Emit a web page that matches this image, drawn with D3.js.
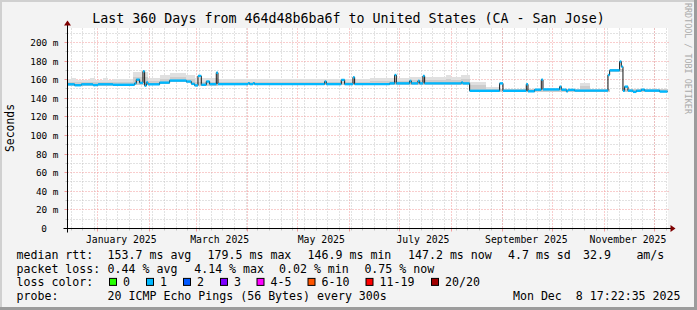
<!DOCTYPE html>
<html>
<head>
<meta charset="utf-8">
<script src="https://cdn.jsdelivr.net/npm/d3@7"></script>
<style>
  body { margin: 0; background: #fff; }
  svg { display: block; }
  text { font-family: "DejaVu Sans Mono", monospace; }
</style>
</head>
<body>
<div id="canvas"></div>
<script>
// DATA ========================================================================

var START = "2024-12-13 17:22:35"
var END = "2025-12-08 17:22:35"

// median rtt (ms), step runs: each value holds until the next date
var MEDIAN_DATES = [
    "2024-12-13", "2024-12-18", "2024-12-22", "2024-12-29", "2025-01-01", "2025-01-10",
    "2025-01-23", "2025-01-24", "2025-01-26", "2025-01-28", "2025-01-29", "2025-01-30",
    "2025-01-31", "2025-02-07", "2025-02-13", "2025-02-23", "2025-02-26", "2025-02-28",
    "2025-03-02", "2025-03-04", "2025-03-07", "2025-03-09", "2025-03-13", "2025-03-14",
    "2025-04-01", "2025-04-02", "2025-04-04", "2025-04-05", "2025-05-17", "2025-05-18",
    "2025-05-27", "2025-05-29", "2025-06-03", "2025-06-04", "2025-06-25", "2025-06-28",
    "2025-06-29", "2025-07-07", "2025-07-08", "2025-07-12", "2025-07-13", "2025-07-15",
    "2025-07-16", "2025-08-07", "2025-08-08", "2025-08-12", "2025-08-30", "2025-09-01",
    "2025-09-15", "2025-09-16", "2025-09-20", "2025-09-24", "2025-09-25", "2025-10-05",
    "2025-10-06", "2025-10-09", "2025-10-10", "2025-10-14", "2025-11-03", "2025-11-04",
    "2025-11-10", "2025-11-11", "2025-11-12", "2025-11-13", "2025-11-15", "2025-11-18",
    "2025-11-20", "2025-11-23", "2025-11-25", "2025-12-04"
]
var MEDIAN_VALUES = [
    155.0, 154.0, 155.0, 154.2, 155.0, 154.5,
    156.0, 160.0, 156.5, 169.0, 153.5, 157.0,
    155.0, 156.8, 159.0, 158.0, 155.5, 153.8,
    164.0, 154.5, 158.0, 155.2, 167.5, 155.2,
    156.2, 155.2, 156.2, 155.2, 158.0, 155.2,
    159.7, 155.2, 162.5, 155.2, 156.0, 165.0,
    156.0, 158.7, 156.0, 158.7, 156.0, 164.0,
    156.0, 157.0, 156.0, 148.0, 156.0, 148.0,
    155.0, 147.5, 149.2, 160.0, 149.5, 152.5,
    149.2, 147.5, 149.0, 148.2, 165.0, 170.0,
    179.5, 174.0, 148.0, 152.5, 148.2, 146.9,
    148.0, 149.2, 148.2, 147.2
]

// smoke (ms): bottom, top of the dark inner band, top of the light outer band
var SMOKE_DATES = [
    "2024-12-13", "2024-12-16", "2024-12-19", "2024-12-27", "2024-12-30", "2025-01-04",
    "2025-01-07", "2025-01-10", "2025-01-22", "2025-01-31", "2025-02-07", "2025-02-13",
    "2025-02-23", "2025-02-28", "2025-03-14", "2025-06-13", "2025-07-07", "2025-07-29",
    "2025-08-01", "2025-08-07", "2025-08-12", "2025-08-22", "2025-08-30", "2025-10-17",
    "2025-10-23", "2025-11-04", "2025-11-12"
]
var SMOKE_LOW = [
    153.5, 153.5, 153.5, 153.5, 153.5, 153.5,
    153.5, 153.5, 154.0, 154.0, 155.0, 157.0,
    156.0, 153.0, 154.0, 154.0, 154.5, 154.5,
    154.5, 154.5, 147.0, 147.0, 147.0, 147.0,
    147.0, 168.0, 147.0
]
var SMOKE_INNER = [
    157.5, 158.0, 157.5, 158.0, 157.5, 158.0,
    157.0, 157.5, 163.0, 158.5, 161.0, 163.0,
    161.0, 158.0, 157.5, 158.5, 159.5, 161.0,
    159.5, 161.0, 154.0, 150.0, 149.5, 153.0,
    149.5, 171.0, 149.5
]
var SMOKE_OUTER = [
    160.5, 161.5, 160.0, 161.5, 160.0, 161.5,
    160.0, 160.5, 168.0, 162.0, 165.0, 167.0,
    165.0, 162.0, 160.5, 162.0, 163.0, 165.5,
    163.0, 165.0, 158.0, 152.0, 150.5, 156.0,
    150.5, 172.0, 150.5
]

var Y_TICKS = [0, 20, 40, 60, 80, 100, 120, 140, 160, 180, 200]
var X_LABEL_MONTHS = ["2025-01-15", "2025-03-15", "2025-05-15", "2025-07-15", "2025-09-15", "2025-11-15"]

var TITLE = "Last 360 Days from 464d48b6ba6f to United States (CA - San Jose)"
var RTT_STATS = ["153.7 ms avg", "179.5 ms max", "146.9 ms min", "147.2 ms now", "4.7 ms sd", "32.9", "am/s"]
var LOSS_STATS = ["0.44 % avg", "4.14 % max", "0.02 % min", "0.75 % now"]
var LOSS_LABELS = ["0", "1", "2", "3", "4-5", "6-10", "11-19", "20/20"]
var LOSS_COLORS = ["#26ff00", "#00b8ff", "#0059ff", "#7e00ff", "#ff00ff", "#ff5500", "#ff0000", "#a00000"]
var PROBE = "20 ICMP Echo Pings (56 Bytes) every 300s"
var STAMP = "Mon Dec  8 17:22:35 2025"

// LAYOUT ======================================================================

var WIDTH = 697
var HEIGHT = 310
var PLOT = { "left": 67.5, "right": 667.5, "top": 28.5, "bottom": 228.5 }
var Y_MAX = 215
var LEGEND_X = 16.5
var VALUE_X = 107.6
var RTT_X = [107.6, 207.6, 307.6, 408, 508, 583, 636.4]
var LOSS_X = [107.6, 194.2, 279, 364.4]
var BOX_X = [109, 146, 183, 220, 256.5, 307.5, 365.5, 431]
var ROW_Y = [258.8, 272.5, 286.4, 300.2]

var MEDIAN_COLOR = "#00b8ff"
var SMOKE_LIGHT = "#e0e0e0"
var SMOKE_DARK = "#cdcdcd"
var GRID_MINOR = "#c4c4c4"
var GRID_MAJOR = "#f29a9a"
var ARROW = "#7f0000"

// CHART =======================================================================

var parseDay = d3.timeParse("%Y-%m-%d")
var parseFull = d3.timeParse("%Y-%m-%d %H:%M:%S")
var t0 = parseFull(START)
var t1 = parseFull(END)

var x = d3.scaleTime().domain([t0, t1]).range([PLOT.left, PLOT.right])
var y = d3.scaleLinear().domain([0, Y_MAX]).range([PLOT.bottom, PLOT.top])

function crisp(v) { return Math.round(v - 0.5) + 0.5 }

var svg = d3.select("#canvas").append("svg")
    .attr("width", WIDTH)
    .attr("height", HEIGHT)

// Background and frame.
svg.append("rect").attr("width", WIDTH).attr("height", HEIGHT).attr("fill", "#f3f3f3")
svg.append("rect").attr("x", 0).attr("y", 0).attr("width", WIDTH).attr("height", 2).attr("fill", "#d0d0d0")
svg.append("rect").attr("x", 0).attr("y", 0).attr("width", 2).attr("height", HEIGHT).attr("fill", "#d0d0d0")
svg.append("rect").attr("x", WIDTH - 3).attr("y", 0).attr("width", 3).attr("height", HEIGHT).attr("fill", "#9c9c9c")
svg.append("rect").attr("x", 0).attr("y", HEIGHT - 3).attr("width", WIDTH).attr("height", 3).attr("fill", "#9c9c9c")

svg.append("rect")
    .attr("x", PLOT.left - 0.5)
    .attr("y", PLOT.top - 0.5)
    .attr("width", PLOT.right - PLOT.left + 1)
    .attr("height", PLOT.bottom - PLOT.top)
    .attr("fill", "#fff")

// Grid.
var grid = svg.append("g").attr("stroke-width", 1).attr("fill", "none")

var weeks = d3.timeMonday.range(t0, t1)
var months = d3.timeMonth.range(t0, t1)

weeks.forEach(function(d) {
    let px = crisp(x(d))
    grid.append("line").attr("x1", px).attr("x2", px).attr("y1", PLOT.top).attr("y2", PLOT.bottom)
        .attr("stroke", GRID_MINOR).attr("stroke-dasharray", "1,2")
    grid.append("line").attr("x1", px).attr("x2", px).attr("y1", PLOT.bottom).attr("y2", PLOT.bottom + 2)
        .attr("stroke", GRID_MINOR)
})

d3.range(10, Y_MAX, 20).forEach(function(v) {
    let py = crisp(y(v))
    grid.append("line").attr("x1", PLOT.left).attr("x2", PLOT.right).attr("y1", py).attr("y2", py)
        .attr("stroke", GRID_MINOR).attr("stroke-dasharray", "1,2")
    grid.append("line").attr("x1", PLOT.left - 2).attr("x2", PLOT.left).attr("y1", py).attr("y2", py)
        .attr("stroke", GRID_MINOR)
})

months.forEach(function(d) {
    let px = crisp(x(d))
    grid.append("line").attr("x1", px).attr("x2", px).attr("y1", PLOT.top).attr("y2", PLOT.bottom)
        .attr("stroke", GRID_MAJOR).attr("stroke-dasharray", "1,2")
    grid.append("line").attr("x1", px).attr("x2", px).attr("y1", PLOT.bottom).attr("y2", PLOT.bottom + 3)
        .attr("stroke", GRID_MAJOR)
})

Y_TICKS.forEach(function(v) {
    let py = crisp(y(v))
    grid.append("line").attr("x1", PLOT.left).attr("x2", PLOT.right + 1).attr("y1", py).attr("y2", py)
        .attr("stroke", GRID_MAJOR).attr("stroke-dasharray", "1,2")
    grid.append("line").attr("x1", PLOT.left - 3).attr("x2", PLOT.left).attr("y1", py).attr("y2", py)
        .attr("stroke", GRID_MAJOR)
})

// Smoke.
var smoke = SMOKE_DATES.map(function(d, i) {
    return {
        "t0": parseDay(d) < t0 ? t0 : parseDay(d),
        "t1": i + 1 < SMOKE_DATES.length ? parseDay(SMOKE_DATES[i + 1]) : t1,
        "low": SMOKE_LOW[i],
        "inner": SMOKE_INNER[i],
        "outer": SMOKE_OUTER[i]
    }
})

var smokeG = svg.append("g").attr("shape-rendering", "crispEdges")
smokeG.selectAll(".outer").data(smoke).enter().append("rect")
    .attr("x", d => x(d.t0))
    .attr("width", d => x(d.t1) - x(d.t0))
    .attr("y", d => y(d.outer))
    .attr("height", d => y(d.low) - y(d.outer))
    .attr("fill", SMOKE_LIGHT)
smokeG.selectAll(".inner").data(smoke).enter().append("rect")
    .attr("x", d => x(d.t0))
    .attr("width", d => x(d.t1) - x(d.t0))
    .attr("y", d => y(d.inner))
    .attr("height", d => y(d.low) - y(d.inner))
    .attr("fill", SMOKE_DARK)

// Median.
var runs = MEDIAN_DATES.map(function(d, i) {
    return {
        "t0": parseDay(d) < t0 ? t0 : parseDay(d),
        "t1": i + 1 < MEDIAN_DATES.length ? parseDay(MEDIAN_DATES[i + 1]) : t1,
        "v": MEDIAN_VALUES[i]
    }
})

var stepPoints = runs.map(d => [d.t0, d.v]).concat([[t1, runs[runs.length - 1].v]])
svg.append("path")
    .attr("d", d3.line().x(d => x(d[0])).y(d => y(d[1])).curve(d3.curveStepAfter)(stepPoints))
    .attr("fill", "none")
    .attr("stroke", "#111")
    .attr("stroke-width", 1)

svg.append("g").selectAll("line").data(runs).enter().append("line")
    .attr("x1", d => x(d.t0))
    .attr("x2", d => x(d.t1))
    .attr("y1", d => y(d.v))
    .attr("y2", d => y(d.v))
    .attr("stroke", MEDIAN_COLOR)
    .attr("stroke-width", 2.4)

// Axes.
svg.append("line")
    .attr("x1", PLOT.left - 4).attr("x2", PLOT.right + 4)
    .attr("y1", PLOT.bottom).attr("y2", PLOT.bottom)
    .attr("stroke", "#000")
svg.append("line")
    .attr("x1", PLOT.left).attr("x2", PLOT.left)
    .attr("y1", PLOT.bottom + 4).attr("y2", PLOT.top - 4)
    .attr("stroke", "#000")
svg.append("path")
    .attr("d", "M" + (PLOT.right + 3) + "," + (PLOT.bottom - 3.5) + "L" + (PLOT.right + 8) + "," + PLOT.bottom +
               "L" + (PLOT.right + 3) + "," + (PLOT.bottom + 3.5) + "Z")
    .attr("fill", ARROW)
svg.append("path")
    .attr("d", "M" + (PLOT.left - 3.5) + "," + (PLOT.top - 3) + "L" + PLOT.left + "," + (PLOT.top - 8) +
               "L" + (PLOT.left + 3.5) + "," + (PLOT.top - 3) + "Z")
    .attr("fill", ARROW)

// Axis labels.
svg.append("g").selectAll("text").data(Y_TICKS).enter().append("text")
    .attr("x", d => d === 0 ? 46.8 : 58.5)
    .attr("y", d => y(d) + 3.5)
    .attr("text-anchor", "end")
    .attr("font-size", "9.4px")
    .attr("fill", "#000")
    .text(d => d === 0 ? "0" : d + " m")

svg.append("g").selectAll("text").data(X_LABEL_MONTHS).enter().append("text")
    .attr("x", d => x(parseDay(d)))
    .attr("y", 242.5)
    .attr("text-anchor", "middle")
    .attr("font-size", "9.8px")
    .attr("fill", "#000")
    .text(d => d3.timeFormat("%B %Y")(parseDay(d)))

svg.append("text")
    .attr("transform", "translate(14,128) rotate(-90)")
    .attr("text-anchor", "middle")
    .attr("font-size", "11.4px")
    .text("Seconds")

svg.append("text")
    .attr("x", 348.5)
    .attr("y", 23)
    .attr("text-anchor", "middle")
    .attr("font-size", "13.3px")
    .text(TITLE)

svg.append("text")
    .attr("transform", "translate(685,3) rotate(90)")
    .attr("font-size", "8.4px")
    .attr("fill", "#aaa")
    .text("RRDTOOL / TOBI OETIKER")

// Legend.
var legend = svg.append("g").attr("font-size", "11.6px").attr("fill", "#000")

legend.append("text").attr("x", LEGEND_X).attr("y", ROW_Y[0]).text("median rtt:")
RTT_STATS.forEach(function(s, i) {
    legend.append("text").attr("x", RTT_X[i]).attr("y", ROW_Y[0]).text(s)
})

legend.append("text").attr("x", LEGEND_X).attr("y", ROW_Y[1]).text("packet loss:")
LOSS_STATS.forEach(function(s, i) {
    legend.append("text").attr("x", LOSS_X[i]).attr("y", ROW_Y[1]).text(s)
})

legend.append("text").attr("x", LEGEND_X).attr("y", ROW_Y[2]).text("loss color:")
LOSS_LABELS.forEach(function(s, i) {
    legend.append("rect")
        .attr("x", BOX_X[i] + 0.5).attr("y", ROW_Y[2] - 8)
        .attr("width", 7).attr("height", 7)
        .attr("fill", LOSS_COLORS[i])
        .attr("stroke", "#000")
    legend.append("text").attr("x", BOX_X[i] + 14).attr("y", ROW_Y[2]).text(s)
})

legend.append("text").attr("x", LEGEND_X).attr("y", ROW_Y[3]).text("probe:")
legend.append("text").attr("x", VALUE_X).attr("y", ROW_Y[3]).text(PROBE)
legend.append("text").attr("x", 680.5).attr("y", ROW_Y[3]).attr("text-anchor", "end")
    .attr("xml:space", "preserve").style("white-space", "pre").text(STAMP)
</script>
</body>
</html>
